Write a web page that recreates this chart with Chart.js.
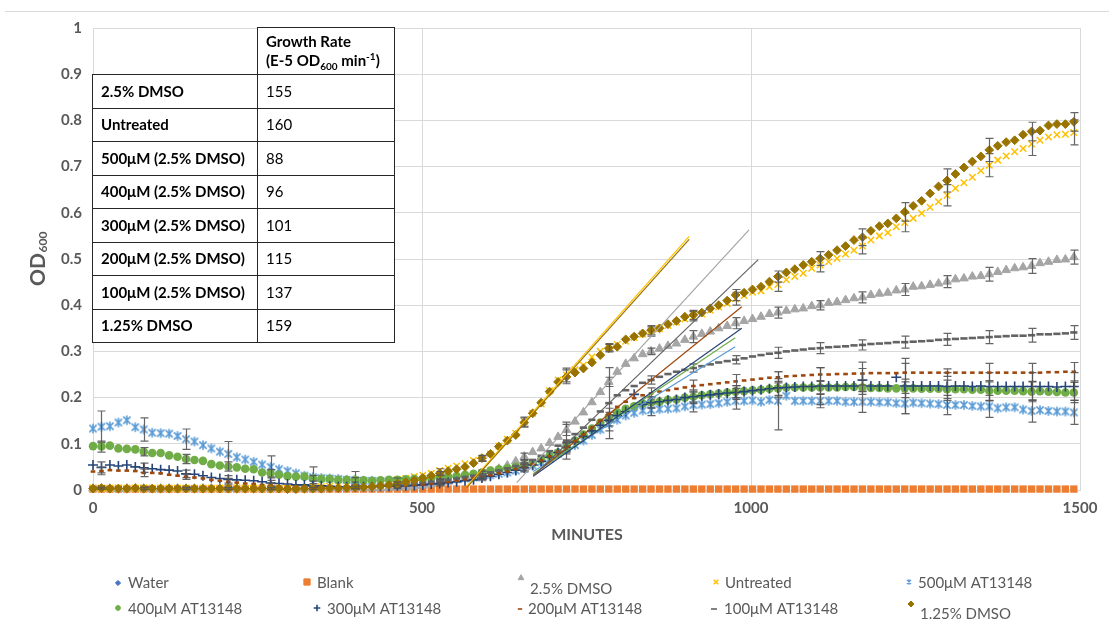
<!DOCTYPE html>
<html>
<head>
<meta charset="utf-8">
<title>Growth curves with AT13148</title>
<script src="https://cdn.jsdelivr.net/npm/chart.js@4.4.1/dist/chart.umd.min.js"></script>
<style>
  html, body { margin: 0; padding: 0; background: #fff; }
  #wrap { position: relative; width: 1109px; height: 622px; overflow: hidden; font-family: Lato, "Open Sans", sans-serif; }
  #chart { position: absolute; left: 0; top: 0; }
  #frame { position: absolute; left: 5px; top: 11px; width: 1104px; border-top: 1px solid #d9d9d9; }
  #rates { position: absolute; left: 92px; top: 27px; border-collapse: collapse; table-layout: fixed; width: 302px; font-size: 15px; color: #000; }
  #rates td { border: 1.5px solid #262626; background: #fff; padding: 0 0 0 8px; line-height: 19px; white-space: nowrap; }
  #rates tr { height: 33.5px; }
  #rates tr.head { height: 47px; }
  #rates tr.head td { font-weight: 700; }
  #rates td.name { font-weight: 700; }
  #rates td.blank { border-top: none; border-left: none; background: transparent; }
  #rates sub, #rates sup { font-size: 10px; line-height: 0; }
</style>
</head>
<body>
<div id="wrap">
  <div id="frame"></div>
  <canvas id="chart" width="1109" height="622"></canvas>
  <table id="rates"></table>
</div>
<script>
// Sampling times (minutes)
const minutes = [
  0, 12.9, 25.7, 38.6, 51.4, 64.3, 77.1, 90, 102.8, 115.7,
  128.5, 141.4, 154.2, 167.1, 179.9, 192.8, 205.6, 218.5, 231.3, 244.2,
  257, 269.9, 282.7, 295.6, 308.4, 321.3, 334.1, 347, 359.8, 372.7,
  385.5, 398.4, 411.2, 424.1, 436.9, 449.8, 462.6, 475.5, 488.3, 501.2,
  514, 526.9, 539.7, 552.6, 565.4, 578.3, 591.1, 604, 616.8, 629.7,
  642.5, 655.4, 668.2, 681.1, 693.9, 706.8, 719.6, 732.5, 745.3, 758.2,
  771, 783.9, 796.7, 809.6, 822.4, 835.3, 848.1, 861, 873.8, 886.7,
  899.5, 912.4, 925.2, 938.1, 950.9, 963.8, 976.6, 989.5, 1002.3, 1015.2,
  1028, 1040.9, 1053.7, 1066.6, 1079.4, 1092.3, 1105.1, 1118, 1130.8, 1143.7,
  1156.5, 1169.4, 1182.2, 1195.1, 1207.9, 1220.8, 1233.6, 1246.5, 1259.3, 1272.2,
  1285, 1297.9, 1310.7, 1323.6, 1336.4, 1349.3, 1362.1, 1375, 1387.8, 1400.7,
  1413.5, 1426.4, 1439.2, 1452.1, 1464.9, 1477.8, 1490.6
];

// OD600 readings per condition
const water = [
  0.001,0.001,0.002,0.001,0.001,0.001,0.002,0.001,0.001,0.001,
  0.001,0.001,0.001,0.002,0.001,0.001,0.001,0.001,0.001,0.001,
  0.001,0.001,0.001,0.001,0.002,0.001,0.001,0.001,0.001,0.001,
  0.001,0.001,0.001,0.001,0.001,0.001,0.001,0.002,0.001,0.001,
  0.001,0.001,0.001,0.001,0.001,0.001,0.001,0.001,0.001,0.001,
  0.001,0.001,0.001,0.001,0.001,0.001,0.001,0.001,0.001,0.001,
  0.001,0.001,0.001,0.001,0.001,0.001,0.001,0.001,0.001,0.001,
  0.001,0.001,0.001,0.001,0.001,0.001,0.001,0.001,0.001,0.001,
  0.001,0.001,0.001,0.001,0.001,0.001,0.001,0.001,0.001,0.001,
  0.001,0.001,0.001,0.001,0.001,0.001,0.001,0.001,0.001,0.001,
  0.001,0.001,0.001,0.001,0.001,0.001,0.001,0.001,0.001,0.001,
  0.001,0.001,0.001,0.001,0.001,0.001,0.001
];
const blank = [
  0.002,0.002,0.002,0.002,0.002,0.002,0.002,0.002,0.002,0.002,
  0.002,0.002,0.002,0.002,0.002,0.002,0.002,0.002,0.002,0.002,
  0.002,0.002,0.002,0.002,0.002,0.002,0.002,0.002,0.002,0.002,
  0.002,0.002,0.002,0.002,0.002,0.002,0.002,0.002,0.002,0.002,
  0.002,0.002,0.002,0.002,0.002,0.002,0.002,0.002,0.002,0.002,
  0.002,0.002,0.002,0.002,0.002,0.002,0.002,0.002,0.002,0.002,
  0.002,0.002,0.002,0.002,0.002,0.002,0.002,0.002,0.002,0.002,
  0.002,0.002,0.002,0.002,0.002,0.002,0.002,0.002,0.002,0.002,
  0.002,0.002,0.002,0.002,0.002,0.002,0.002,0.002,0.002,0.002,
  0.002,0.002,0.002,0.002,0.002,0.002,0.002,0.002,0.002,0.002,
  0.002,0.002,0.002,0.002,0.002,0.002,0.002,0.002,0.002,0.002,
  0.002,0.002,0.002,0.002,0.002,0.002,0.002
];
const dmso25 = [
  0.003,0.003,0.003,0.002,0.003,0.003,0.003,0.002,0.003,0.003,
  0.003,0.003,0.003,0.003,0.003,0.003,0.003,0.003,0.003,0.003,
  0.003,0.003,0.003,0.003,0.003,0.003,0.003,0.003,0.004,0.004,
  0.004,0.004,0.004,0.004,0.004,0.005,0.005,0.006,0.008,0.010,
  0.012,0.015,0.018,0.022,0.026,0.030,0.035,0.040,0.046,0.053,
  0.062,0.072,0.082,0.090,0.102,0.115,0.130,0.148,0.168,0.190,
  0.212,0.234,0.256,0.273,0.285,0.294,0.300,0.306,0.312,0.317,
  0.325,0.332,0.338,0.343,0.350,0.355,0.361,0.366,0.370,0.375,
  0.381,0.384,0.388,0.391,0.393,0.398,0.400,0.405,0.407,0.411,
  0.415,0.417,0.422,0.425,0.427,0.432,0.434,0.440,0.441,0.444,
  0.447,0.451,0.456,0.458,0.462,0.463,0.467,0.472,0.476,0.480,
  0.482,0.485,0.491,0.494,0.498,0.499,0.504
];
const untreated = [
  0.005,0.004,0.004,0.005,0.004,0.004,0.005,0.004,0.004,0.004,
  0.004,0.004,0.004,0.004,0.004,0.004,0.004,0.005,0.004,0.004,
  0.004,0.004,0.004,0.004,0.005,0.005,0.006,0.007,0.008,0.009,
  0.010,0.012,0.013,0.015,0.017,0.019,0.022,0.025,0.029,0.032,
  0.036,0.042,0.047,0.052,0.057,0.064,0.068,0.078,0.095,0.110,
  0.123,0.148,0.166,0.186,0.215,0.238,0.249,0.260,0.270,0.288,
  0.300,0.309,0.315,0.322,0.330,0.337,0.343,0.349,0.356,0.363,
  0.370,0.376,0.381,0.389,0.396,0.404,0.414,0.421,0.428,0.431,
  0.440,0.445,0.455,0.462,0.469,0.480,0.487,0.494,0.501,0.511,
  0.519,0.528,0.541,0.550,0.557,0.570,0.579,0.588,0.599,0.612,
  0.624,0.638,0.653,0.665,0.677,0.691,0.703,0.714,0.723,0.732,
  0.739,0.749,0.757,0.764,0.769,0.770,0.774
];
const at500 = [
  0.133,0.137,0.138,0.146,0.151,0.136,0.131,0.124,0.123,0.122,
  0.117,0.110,0.105,0.097,0.090,0.083,0.078,0.071,0.066,0.061,
  0.055,0.050,0.045,0.041,0.036,0.031,0.028,0.026,0.025,0.024,
  0.022,0.021,0.020,0.020,0.019,0.019,0.019,0.019,0.019,0.019,
  0.020,0.021,0.022,0.023,0.025,0.027,0.029,0.032,0.035,0.038,
  0.042,0.047,0.053,0.060,0.068,0.079,0.090,0.097,0.107,0.119,
  0.131,0.143,0.152,0.161,0.167,0.172,0.173,0.175,0.176,0.177,
  0.181,0.184,0.185,0.186,0.188,0.191,0.193,0.193,0.194,0.191,
  0.195,0.193,0.204,0.193,0.193,0.193,0.193,0.193,0.193,0.191,
  0.191,0.191,0.191,0.190,0.190,0.188,0.187,0.189,0.188,0.187,
  0.186,0.184,0.184,0.184,0.182,0.181,0.181,0.177,0.179,0.179,
  0.174,0.171,0.173,0.171,0.170,0.170,0.168
];
const at400 = [
  0.095,0.094,0.096,0.090,0.089,0.088,0.083,0.080,0.080,0.075,
  0.072,0.067,0.065,0.063,0.056,0.053,0.051,0.049,0.046,0.045,
  0.038,0.036,0.033,0.030,0.029,0.029,0.025,0.024,0.024,0.022,
  0.022,0.022,0.021,0.020,0.021,0.022,0.022,0.023,0.024,0.024,
  0.026,0.027,0.029,0.030,0.033,0.035,0.038,0.042,0.045,0.047,
  0.050,0.054,0.058,0.066,0.074,0.081,0.094,0.107,0.120,0.133,
  0.146,0.158,0.168,0.176,0.181,0.187,0.190,0.191,0.195,0.196,
  0.200,0.202,0.205,0.207,0.209,0.211,0.213,0.214,0.216,0.217,
  0.219,0.220,0.222,0.222,0.222,0.222,0.222,0.222,0.222,0.223,
  0.223,0.222,0.221,0.221,0.220,0.220,0.220,0.220,0.219,0.219,
  0.219,0.218,0.218,0.218,0.217,0.217,0.215,0.215,0.215,0.215,
  0.214,0.213,0.214,0.213,0.212,0.211,0.211
];
const at300 = [
  0.054,0.049,0.054,0.052,0.054,0.050,0.048,0.046,0.044,0.043,
  0.041,0.035,0.034,0.031,0.027,0.025,0.023,0.022,0.021,0.020,
  0.018,0.015,0.014,0.013,0.011,0.011,0.009,0.009,0.008,0.007,
  0.007,0.007,0.007,0.007,0.008,0.008,0.009,0.009,0.010,0.011,
  0.013,0.014,0.016,0.018,0.020,0.022,0.026,0.030,0.034,0.038,
  0.043,0.048,0.054,0.062,0.071,0.081,0.092,0.104,0.116,0.128,
  0.140,0.151,0.161,0.170,0.207,0.185,0.189,0.191,0.194,0.196,
  0.200,0.202,0.204,0.206,0.208,0.210,0.211,0.213,0.215,0.217,
  0.219,0.221,0.222,0.223,0.224,0.224,0.225,0.225,0.225,0.225,
  0.225,0.238,0.225,0.225,0.225,0.244,0.225,0.225,0.225,0.225,
  0.225,0.224,0.225,0.225,0.224,0.225,0.224,0.224,0.224,0.224,
  0.224,0.224,0.224,0.224,0.223,0.224,0.224
];
const at200 = [
  0.040,0.041,0.043,0.042,0.042,0.041,0.037,0.037,0.036,0.033,
  0.031,0.029,0.027,0.025,0.022,0.020,0.018,0.016,0.014,0.013,
  0.011,0.010,0.008,0.007,0.007,0.006,0.006,0.006,0.006,0.006,
  0.006,0.006,0.006,0.007,0.007,0.008,0.009,0.010,0.011,0.012,
  0.014,0.016,0.018,0.020,0.023,0.026,0.029,0.032,0.036,0.040,
  0.045,0.050,0.056,0.064,0.073,0.083,0.094,0.106,0.120,0.135,
  0.150,0.165,0.180,0.191,0.199,0.205,0.209,0.213,0.216,0.219,
  0.222,0.225,0.227,0.229,0.231,0.233,0.235,0.237,0.239,0.241,
  0.243,0.244,0.246,0.247,0.248,0.249,0.250,0.250,0.251,0.251,
  0.252,0.252,0.253,0.253,0.253,0.253,0.254,0.254,0.254,0.254,
  0.254,0.254,0.254,0.254,0.254,0.254,0.254,0.254,0.254,0.254,
  0.254,0.254,0.254,0.255,0.255,0.256,0.256
];
const at100 = [
  0.006,0.006,0.005,0.006,0.005,0.005,0.005,0.005,0.005,0.005,
  0.005,0.005,0.005,0.005,0.004,0.004,0.004,0.004,0.004,0.004,
  0.004,0.004,0.004,0.004,0.004,0.005,0.005,0.005,0.005,0.005,
  0.006,0.006,0.007,0.008,0.009,0.010,0.011,0.012,0.014,0.016,
  0.018,0.020,0.022,0.025,0.028,0.031,0.034,0.038,0.042,0.047,
  0.052,0.058,0.065,0.074,0.084,0.096,0.107,0.121,0.135,0.152,
  0.170,0.188,0.205,0.216,0.225,0.232,0.238,0.245,0.251,0.256,
  0.260,0.264,0.268,0.272,0.276,0.279,0.282,0.285,0.289,0.292,
  0.295,0.297,0.300,0.302,0.304,0.306,0.307,0.309,0.310,0.311,
  0.313,0.314,0.316,0.317,0.318,0.320,0.320,0.321,0.322,0.323,
  0.325,0.326,0.327,0.328,0.329,0.330,0.331,0.332,0.333,0.334,
  0.334,0.335,0.337,0.337,0.338,0.339,0.341
];
const dmso125 = [
  0.003,0.004,0.003,0.003,0.003,0.004,0.003,0.003,0.003,0.003,
  0.003,0.003,0.003,0.003,0.003,0.003,0.003,0.003,0.003,0.003,
  0.003,0.003,0.003,0.002,0.002,0.003,0.003,0.003,0.004,0.004,
  0.005,0.005,0.006,0.007,0.009,0.011,0.014,0.017,0.021,0.026,
  0.031,0.036,0.041,0.045,0.050,0.058,0.069,0.078,0.094,0.107,
  0.119,0.146,0.166,0.189,0.213,0.234,0.245,0.254,0.263,0.276,
  0.292,0.307,0.310,0.326,0.332,0.339,0.346,0.350,0.359,0.366,
  0.375,0.379,0.384,0.393,0.400,0.410,0.422,0.427,0.434,0.440,
  0.451,0.462,0.471,0.478,0.487,0.494,0.501,0.509,0.519,0.528,
  0.541,0.547,0.561,0.571,0.577,0.588,0.602,0.615,0.626,0.642,
  0.657,0.670,0.684,0.698,0.711,0.722,0.736,0.745,0.753,0.757,
  0.769,0.776,0.778,0.789,0.792,0.792,0.797
];

// Sample indices that carry a standard deviation, and the deviations
const errorIdx = [1, 6, 11, 16, 21, 26, 31, 36, 41, 46, 51, 56, 61, 66, 71, 76, 81, 86, 91, 96, 101, 106, 111, 116];
const errDmso25    = [0.002,0.002,0.002,0.002,0.002,0.002,0.002,0.002,0.003,0.005,0.008,0.012,0.010,0.007,0.013,0.012,0.012,0.010,0.012,0.013,0.013,0.015,0.016,0.015];
const errUntreated = [0.002,0.002,0.002,0.002,0.002,0.002,0.002,0.003,0.004,0.006,0.010,0.015,0.008,0.010,0.010,0.014,0.015,0.015,0.017,0.020,0.023,0.025,0.025,0.027];
const errAt500     = [0.034,0.025,0.022,0.027,0.024,0.022,0.019,0.008,0.005,0.006,0.008,0.012,0.015,0.012,0.015,0.018,0.063,0.015,0.023,0.022,0.021,0.024,0.024,0.026];
const errAt400     = [0.012,0.009,0.010,0.010,0.008,0.006,0.005,0.004,0.004,0.005,0.006,0.008,0.010,0.012,0.012,0.013,0.015,0.015,0.015,0.020,0.020,0.022,0.022,0.022];
const errAt300     = [0.012,0.010,0.008,0.008,0.006,0.005,0.004,0.004,0.005,0.006,0.007,0.010,0.012,0.012,0.015,0.015,0.020,0.040,0.025,0.060,0.030,0.030,0.030,0.030];
const errAt200     = [0.008,0.008,0.006,0.007,0.005,0.004,0.004,0.004,0.005,0.006,0.007,0.010,0.012,0.012,0.013,0.015,0.012,0.015,0.025,0.020,0.008,0.020,0.020,0.020];
const errAt100     = [0.003,0.003,0.003,0.003,0.003,0.003,0.003,0.003,0.004,0.006,0.008,0.040,0.077,0.009,0.009,0.009,0.012,0.012,0.011,0.013,0.013,0.014,0.015,0.015];
const errDmso125   = [0.002,0.002,0.002,0.002,0.002,0.002,0.002,0.003,0.004,0.006,0.010,0.015,0.008,0.010,0.010,0.012,0.012,0.015,0.018,0.020,0.025,0.025,0.020,0.020];

// Growth-rate table (E-5 OD600 per minute) and the linear fits it summarises
const tableRows   = ['2.5% DMSO', 'Untreated', '500μM (2.5% DMSO)', '400μM (2.5% DMSO)', '300μM (2.5% DMSO)', '200μM (2.5% DMSO)', '100μM (2.5% DMSO)', '1.25% DMSO'];
const growthRates = [155, 160, 88, 96, 101, 115, 137, 159];
const fitSeries   = ['2.5% DMSO', 'Untreated', '500μM AT13148', '400μM AT13148', '300μM AT13148', '200μM AT13148', '100μM AT13148', '1.25% DMSO'];
const fitStartMin = [644, 568, 669, 669, 669, 669, 669, 568];
const fitStartOD  = [0.016, 0.008, 0.040, 0.035, 0.030, 0.032, 0.030, 0.005];
const fitEndMin   = [997, 906, 976, 976, 986, 986, 1011, 906];

// Axis ticks
const xTicks = [0, 500, 1000, 1500];
const yTicks = [0, 0.1, 0.2, 0.3, 0.4, 0.5, 0.6, 0.7, 0.8, 0.9, 1];

// ---------- drawing ----------
function asterisk(size, color, lw) {
  const c = document.createElement('canvas');
  c.width = c.height = size;
  const g = c.getContext('2d');
  const h = size / 2, d = h - 1.2;
  g.strokeStyle = color; g.lineWidth = lw; g.lineCap = 'butt';
  g.beginPath();
  g.moveTo(h - d * 0.75, h - d * 0.75); g.lineTo(h + d * 0.75, h + d * 0.75);
  g.moveTo(h + d * 0.75, h - d * 0.75); g.lineTo(h - d * 0.75, h + d * 0.75);
  g.moveTo(h, h - d); g.lineTo(h, h + d);
  g.stroke();
  return c;
}

const series = [
  { label: 'Water',          values: water,     err: null,         color: '#4472C4', style: 'rectRot',   r: 2.5, bw: 1,   lr: 2.6 },
  { label: 'Blank',          values: blank,     err: null,         color: '#ED7D31', style: 'rect',      r: 5.2, bw: 0,   lr: 4.4 },
  { label: '2.5% DMSO',      values: dmso25,    err: errDmso25,    color: '#A5A5A5', style: 'triangle',  r: 5,   bw: 1,   lr: 3.3 },
  { label: 'Untreated',      values: untreated, err: errUntreated, color: '#FFC000', style: 'crossRot',  r: 4.6, bw: 1.5, lr: 3.2 },
  { label: '500μM AT13148',  values: at500,     err: errAt500,     color: '#5B9BD5', style: asterisk(12, '#5B9BD5', 1.6), r: 5, bw: 1, legendStyle: asterisk(8, '#5B9BD5', 1.2), lr: 4 },
  { label: '400μM AT13148',  values: at400,     err: errAt400,     color: '#70AD47', style: 'circle',    r: 4.3, bw: 0,   lr: 2.4 },
  { label: '300μM AT13148',  values: at300,     err: errAt300,     color: '#264478', style: 'cross',     r: 5,   bw: 1.6, lr: 3.3 },
  { label: '200μM AT13148',  values: at200,     err: errAt200,     color: '#9E480E', style: 'line',      r: 2.3, bw: 2.6, lr: 2.2 },
  { label: '100μM AT13148',  values: at100,     err: errAt100,     color: '#636363', style: 'line',      r: 3.6, bw: 2.6, lr: 3 },
  { label: '1.25% DMSO',     values: dmso125,   err: errDmso125,   color: '#997300', style: 'rectRot',   r: 4.4, bw: 1,   lr: 3 }
];

const datasets = series.map((s, k) => ({
  label: s.label,
  data: minutes.map((m, i) => ({ x: m, y: s.values[i] })),
  pointStyle: s.style,
  pointRadius: s.r,
  pointBorderWidth: s.bw,
  backgroundColor: s.color,
  borderColor: s.color,
  showLine: false,
  clip: false,
  order: 100 - k
}));

// Linear trend lines, slope taken from the table's growth rates
fitSeries.forEach((name, k) => {
  const s = series.find(v => v.label === name);
  const slope = growthRates[k] * 1e-5;
  const y0 = fitStartOD[k];
  const y1 = y0 + slope * (fitEndMin[k] - fitStartMin[k]);
  datasets.push({
    label: name + ' fit',
    data: [{ x: fitStartMin[k], y: y0 }, { x: fitEndMin[k], y: y1 }],
    showLine: true,
    borderColor: s.color,
    backgroundColor: s.color,
    borderWidth: 1.2,
    pointRadius: 0,
    order: 10 - k
  });
});

const legendSlots = [
  { mx: 118, my: 583, tx: 128, ty: 583 },
  { mx: 307, my: 582, tx: 317, ty: 583 },
  { mx: 521, my: 578, tx: 530, ty: 589 },
  { mx: 716, my: 582, tx: 725, ty: 583 },
  { mx: 909, my: 582, tx: 918, ty: 583 },
  { mx: 118, my: 608, tx: 128, ty: 609 },
  { mx: 317, my: 608, tx: 327, ty: 609 },
  { mx: 520, my: 609, tx: 528, ty: 609 },
  { mx: 714, my: 609, tx: 724, ty: 609 },
  { mx: 911, my: 604, tx: 920, ty: 614 }
];

function marker(ctx, style, r, bw, color, x, y) {
  ctx.save();
  ctx.fillStyle = color; ctx.strokeStyle = color; ctx.lineWidth = bw;
  if (Chart.helpers && Chart.helpers.drawPoint) {
    Chart.helpers.drawPoint(ctx, { pointStyle: style, radius: r, rotation: 0, borderWidth: bw }, x, y);
  } else if (style instanceof HTMLCanvasElement) {
    ctx.drawImage(style, x - style.width / 2, y - style.height / 2);
  } else {
    ctx.beginPath(); ctx.arc(x, y, r, 0, Math.PI * 2); ctx.fill();
  }
  ctx.restore();
}

const errorBars = {
  id: 'errorBars',
  afterDatasetDraw(chart, args) {
    const s = series[args.index];
    if (!s || !s.err) return;
    const ctx = chart.ctx, xs = chart.scales.x, ys = chart.scales.y;
    ctx.save();
    ctx.strokeStyle = 'rgba(85,85,85,0.9)';
    ctx.lineWidth = 1.2;
    errorIdx.forEach((i, k) => {
      const e = s.err[k], v = s.values[i];
      const x = Math.round(xs.getPixelForValue(minutes[i])) + 0.5;
      const yt = ys.getPixelForValue(v + e), yb = ys.getPixelForValue(v - e);
      ctx.beginPath();
      ctx.moveTo(x, yt); ctx.lineTo(x, yb);
      ctx.moveTo(x - 4, yt); ctx.lineTo(x + 4, yt);
      ctx.moveTo(x - 4, yb); ctx.lineTo(x + 4, yb);
      ctx.stroke();
    });
    ctx.restore();
  }
};

const decor = {
  id: 'decor',
  afterDraw(chart) {
    const ctx = chart.ctx;
    // y-axis title with subscript
    ctx.save();
    ctx.translate(40, 259);
    ctx.rotate(-Math.PI / 2);
    ctx.fillStyle = '#595959';
    ctx.textBaseline = 'alphabetic';
    ctx.font = 'bold 21px Lato';
    const wOD = ctx.measureText('OD').width;
    ctx.font = 'bold 12px Lato';
    const wSub = ctx.measureText('600').width;
    const x0 = -(wOD + wSub) / 2;
    ctx.font = 'bold 21px Lato';
    ctx.fillText('OD', x0, 4.5);
    ctx.font = 'bold 12px Lato';
    ctx.fillText('600', x0 + wOD + 0.5, 7);
    ctx.restore();

    // x-axis title
    ctx.save();
    ctx.fillStyle = '#595959';
    ctx.font = 'bold 16px Lato';
    ctx.textAlign = 'center';
    ctx.textBaseline = 'middle';
    ctx.fillText('MINUTES', 587, 535);
    ctx.restore();

    // legend
    ctx.save();
    ctx.font = '15px Lato';
    ctx.textBaseline = 'middle';
    series.forEach((s, k) => {
      const p = legendSlots[k];
      marker(ctx, s.legendStyle || s.style, s.lr, Math.min(s.bw || 1, 1.6), s.color, p.mx, p.my);
      ctx.fillStyle = '#595959';
      ctx.fillText(s.label, p.tx, p.ty);
    });
    ctx.restore();
  }
};

const tickFont = { family: 'Lato', size: 15, weight: 'bold' };

new Chart(document.getElementById('chart'), {
  type: 'scatter',
  data: { datasets },
  options: {
    responsive: false,
    animation: false,
    devicePixelRatio: 1,
    layout: { padding: { top: 28, right: 29, left: 0, bottom: 0 } },
    plugins: { legend: { display: false }, tooltip: { enabled: false } },
    scales: {
      x: {
        type: 'linear', min: xTicks[0], max: xTicks[xTicks.length - 1],
        afterBuildTicks(scale) { scale.ticks = xTicks.map(v => ({ value: v })); },
        ticks: { font: tickFont, color: '#595959', padding: 9, maxRotation: 0, callback: v => String(v) },
        grid: { color: '#d9d9d9', drawTicks: false },
        border: { color: '#d9d9d9' },
        afterFit(scale) { scale.height = 132; }
      },
      y: {
        type: 'linear', min: yTicks[0], max: yTicks[yTicks.length - 1],
        afterBuildTicks(scale) { scale.ticks = yTicks.map(v => ({ value: v })); },
        ticks: { font: tickFont, color: '#595959', padding: 11, callback: v => String(Math.round(v * 10) / 10) },
        grid: { color: '#d9d9d9', drawTicks: false },
        border: { color: '#d9d9d9' },
        afterFit(scale) { scale.width = 93; }
      }
    }
  },
  plugins: [errorBars, decor]
});

// growth-rate table
(function () {
  let html = '<colgroup><col style="width:165px"><col style="width:137px"></colgroup>';
  html += '<tr class="head"><td class="blank"></td><td>Growth Rate<br>(E-5 OD<sub>600</sub> min<sup>-1</sup>)</td></tr>';
  tableRows.forEach((name, k) => {
    html += '<tr><td class="name">' + name + '</td><td>' + growthRates[k] + '</td></tr>';
  });
  document.getElementById('rates').innerHTML = html;
})();
</script>
</body>
</html>
